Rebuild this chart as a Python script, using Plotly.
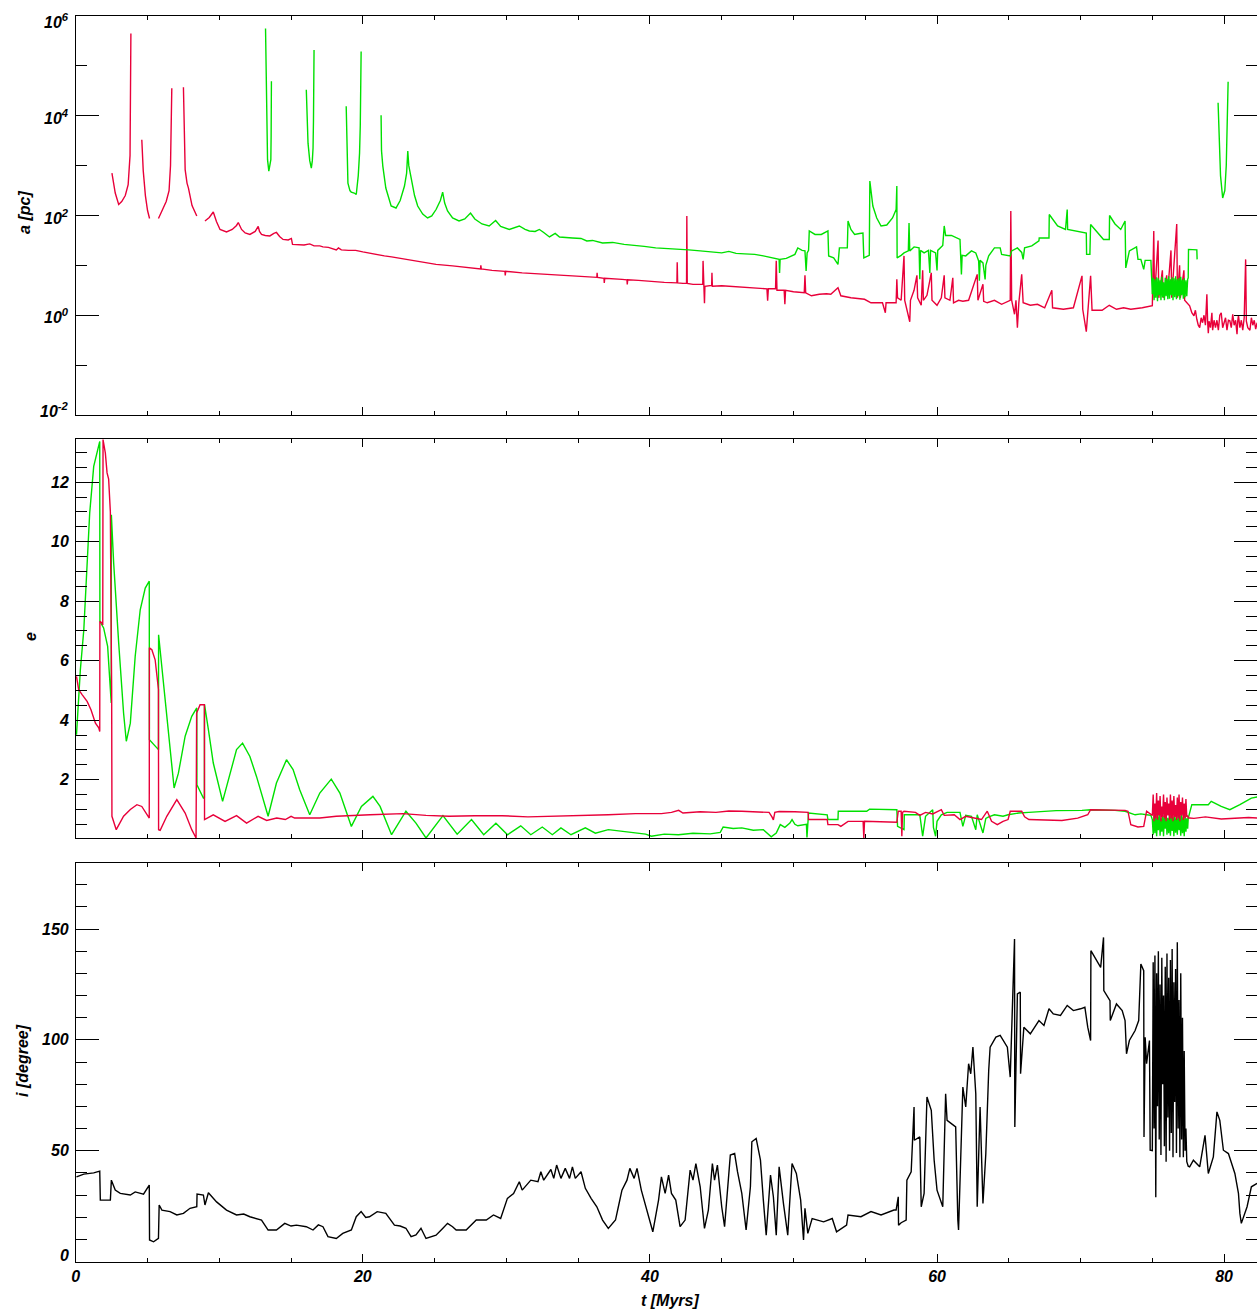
import plotly.graph_objects as go

W, H = 1257, 1312
RED = '#e8003a'
GREEN = '#00e000'
FONT = 'Liberation Sans, Arial, sans-serif'

# ---------------- panel 1 : a [pc] (values stored as log10 a) ----------------
t_a_red = [2.52, 2.75, 2.99, 3.2, 3.45, 3.65, 3.78, 3.84, None,
           4.6, 4.7, 4.85, 5.0, 5.14, None,
           5.76, 6.0, 6.3, 6.5, 6.6, 6.69, None,
           7.5, 7.55, 7.62, 7.75, 7.85, 8.1, 8.43, None,
           9.0, 9.3, 9.58, 9.8, 10.05, 10.5, 10.9, 11.2, 11.32, 11.55, 11.8, 12.13, 12.5, 12.71, 12.8,
           12.94, 13.2, 13.52, 13.8, 13.98, 14.2, 14.44, 14.8, 15.02, 15.1, 15.5, 15.9, 16.3, 16.6, 17.0,
           17.22, 17.6, 18.15, 18.3, 18.5, 19.0, 19.5, 20.0, 20.47, 21.0, 21.5, 22.0, 22.78, 23.5, 24.17,
           25.1, 26.25, 27.0, 27.64, 28.2, 28.22, 28.25, 29.0, 29.9, 29.92, 29.95, 31.1, 32.0, 33.0, 34.0,
           34.6, 35.5, 36.3, 36.32, 36.35, 36.8, 36.82, 36.85, 38.06, 38.4, 38.42, 38.45, 39.2, 40.0, 41.0,
           41.88, 41.9, 41.93, 42.3, 42.55, 42.57, 42.6, 43.0, 43.68, 43.7, 43.78, 43.8, 43.83, 44.3, 44.32,
           44.35, 45.0, 45.6, 46.2, 46.9, 47.5, 48.15, 48.2, 48.25, 48.75, 48.8, 48.85, 49.35, 49.4, 49.45,
           50.0, 50.75, 50.8, 50.85, 51.25, 51.8, 52.3, 52.6, 53.1, 53.3, 54.0, 54.5, 54.95, 55.4, 56.2,
           56.4, 56.45, 57.15, 57.2, 57.25, 57.5, 57.7, 57.75, 58.1, 58.15, 58.4, 58.6, 58.65, 58.9, 59.0,
           59.05, 59.3, 59.6, 59.65, 60.0, 60.3, 60.5, 60.55, 60.9, 61.1, 61.15, 61.5, 61.8, 62.2, 62.8,
           62.85, 63.2, 63.25, 63.5, 64.0, 64.5, 65.1, 65.14, 65.2, 65.4, 65.5, 65.6, 65.7, 65.9, 66.0,
           66.5, 67.0, 67.5, 68.0, 68.05, 68.8, 69.5, 70.1, 70.15, 70.4, 70.5, 70.7, 70.8, 71.5, 72.0,
           72.5, 73.0, 73.5, 74.3, 75.0, 75.1, 75.15, 75.4, 75.45, 75.7, 75.75, 76.0, 76.05, 76.3, 76.35,
           76.7, 76.75, 76.9, 76.95, 77.2, 77.25, 77.6, 77.75, 77.9, 78.0, 78.1, 78.2, 78.3, 78.4, 78.5,
           78.6, 78.7, 78.8, 78.85, 78.9, 78.95, 79.05, 79.15, 79.2, 79.3, 79.4, 79.5, 79.6, 79.7, 79.8,
           79.9, 80.0, 80.1, 80.2, 80.3, 80.4, 80.5, 80.6, 80.7, 80.8, 80.9, 80.95, 81.0, 81.1, 81.2,
           81.3, 81.4, 81.5, 81.55, 81.65, 81.8, 81.9, 82.0, 82.1, 82.2, 82.3]
log_a_red = [2.85, 2.45, 2.22, 2.28, 2.40, 2.62, 3.2, 5.65, None,
             3.52, 2.9, 2.4, 2.1, 1.94, None,
             1.94, 2.08, 2.28, 2.5, 3.0, 4.55, None,
             4.57, 3.5, 2.92, 2.65, 2.55, 2.2, 1.99, None,
             1.89, 1.96, 2.07, 1.88, 1.72, 1.67, 1.72, 1.8, 1.86, 1.72, 1.65, 1.62, 1.68, 1.78, 1.68,
             1.62, 1.60, 1.59, 1.64, 1.66, 1.58, 1.52, 1.51, 1.54, 1.42, 1.41, 1.41, 1.43, 1.39, 1.39,
             1.37, 1.36, 1.31, 1.35, 1.31, 1.30, 1.30, 1.27, 1.24, 1.21, 1.19, 1.17, 1.13, 1.09, 1.06,
             1.02, 0.99, 0.97, 0.95, 0.93, 1.0, 0.93, 0.9, 0.88, 0.8, 0.88, 0.85, 0.83, 0.81, 0.8,
             0.79, 0.77, 0.76, 0.85, 0.76, 0.74, 0.65, 0.74, 0.72, 0.71, 0.62, 0.71, 0.7, 0.68, 0.66,
             0.65, 1.06, 0.65, 0.64, 0.64, 1.99, 0.64, 0.62, 0.62, 1.09, 0.55, 0.24, 0.58, 0.6, 0.85,
             0.58, 0.59, 0.58, 0.56, 0.55, 0.55, 0.53, 0.29, 0.53, 0.53, 1.09, 0.5, 0.5, 0.22, 0.5,
             0.47, 0.45, 0.8, 0.45, 0.39, 0.42, 0.43, 0.42, 0.55, 0.39, 0.35, 0.33, 0.32, 0.25, 0.25,
             0.05, 0.25, 0.25, 0.72, 0.35, 0.3, 1.19, 0.3, -0.13, 0.3, 0.5, 0.8, 0.35, 0.2, 0.9,
             0.3, 0.4, 0.85, 0.3, 0.2, 0.35, 0.8, 0.35, 0.3, 0.75, 0.25, 0.3, 0.28, 0.3, 0.82,
             0.3, 0.62, 0.28, 0.25, 0.3, 0.22, 0.3, 2.09, 0.3, 0.02, 0.3, -0.25, 0.25, 0.82, 0.25,
             0.2, 0.22, 0.15, 0.5, 0.15, 0.12, 0.15, 0.79, 0.12, -0.33, 0.12, 0.79, 0.1, 0.1, 0.2,
             0.12, 0.15, 0.12, 0.15, 0.19, 1.69, 0.35, 1.5, 0.35, 0.9, 0.35, 0.8, 0.4, 1.3, 0.35,
             1.83, 0.35, 1.0, 0.35, 0.9, 0.3, 0.19, 0.05, -0.01, 0.1, -0.08, -0.2, -0.25, -0.05, -0.15,
             0.0, -0.2, 0.42, -0.12, -0.36, -0.12, -0.25, 0.05, -0.3, -0.1, -0.25, -0.1, -0.3, 0.0, 0.05,
             -0.25, -0.15, -0.05, -0.3, -0.1, -0.11, -0.25, 0.02, -0.2, -0.1, -0.38, -0.12, 0.0, -0.25, -0.1,
             -0.3, -0.05, 1.12, -0.12, -0.25, -0.3, -0.05, -0.2, -0.1, -0.28, -0.15]

t_a_green_pre = [13.22, 13.27, 13.3, 13.36, 13.45, 13.52, 13.59, 13.61, 13.63, None,
                 16.06, 16.12, 16.18, 16.3, 16.41, 16.48, 16.53, 16.56, 16.6, None,
                 18.84, 18.9, 18.96, 19.1, 19.19, 19.4, 19.54, 19.68, 19.77, 19.82, 19.88, None,
                 21.27, 21.3, 21.39, 21.6, 21.97, 22.31, 22.6, 22.9, 23.05, 23.13, 23.2, 23.36, 23.6, 23.82,
                 24.17, 24.51, 24.8, 25.1, 25.4, 25.56, 25.7, 25.9, 26.25, 26.7, 27.1, 27.5, 27.8, 28.3,
                 28.8, 29.25, 29.6, 30.2, 30.9, 31.3, 31.6, 32.0, 32.3, 32.6, 33.0, 33.4, 33.7, 34.6,
                 35.2, 35.6, 36.0, 36.7, 37.4, 38.2, 39.0, 39.6, 40.4, 41.2, 42.0, 42.7, 43.5, 44.2,
                 45.0, 45.5, 46.0, 46.6, 47.3, 47.9, 48.5, 49.0, 49.03, 49.07, 49.5, 50.1, 50.3, 50.6,
                 50.8, 50.88, 50.95, 51.05, 51.1, 51.5, 51.94, 52.2, 52.4, 52.45, 52.8, 53.1, 53.2, 53.75,
                 53.8, 54.0, 54.26, 54.6, 54.84, 54.9, 55.28, 55.3, 55.32, 55.53, 55.8, 56.1, 56.5, 56.9,
                 57.15, 57.2, 57.22, 57.5, 57.7, 58.0, 58.05, 58.1, 58.4, 58.75, 58.8, 58.85, 59.1, 59.4,
                 59.5, 59.55, 59.9, 60.0, 60.05, 60.4, 60.5, 60.6, 61.0, 61.6, 61.7, 61.75, 62.0, 62.4,
                 62.7, 62.9, 62.95, 63.0, 63.2, 63.35, 63.4, 63.6, 64.0, 64.4, 64.5, 65.1, 65.2, 65.6,
                 65.9, 66.0, 66.1, 66.6, 67.1, 67.12, 67.8, 67.82, 68.4, 68.95, 69.07, 69.1, 70.2, 70.4,
                 70.42, 70.65, 70.7, 71.6, 72.0, 72.02, 72.4, 72.8, 73.1, 73.15, 73.4, 73.9, 74.0, 74.2,
                 74.4, 74.5, 74.9]
log_a_green_pre = [5.75, 4.6, 3.7, 3.12, 2.89, 2.98, 3.12, 3.6, 4.69, None,
                   4.52, 3.8, 3.45, 3.1, 2.95, 3.1, 3.35, 3.9, 5.32, None,
                   4.19, 3.2, 2.65, 2.5, 2.47, 2.45, 2.42, 2.8, 3.25, 3.8, 5.29, None,
                   4.01, 3.3, 2.99, 2.55, 2.19, 2.15, 2.3, 2.59, 2.85, 3.29, 3.0, 2.75, 2.4, 2.19,
                   2.03, 1.95, 1.99, 2.12, 2.3, 2.47, 2.25, 2.09, 1.95, 1.89, 1.93, 2.05, 1.93, 1.83,
                   1.79, 1.9, 1.78, 1.72, 1.79, 1.72, 1.69, 1.68, 1.72, 1.66, 1.57, 1.64, 1.57, 1.55,
                   1.54, 1.49, 1.5, 1.45, 1.46, 1.42, 1.4, 1.38, 1.35, 1.34, 1.32, 1.31, 1.29, 1.27,
                   1.25, 1.28, 1.24, 1.23, 1.22, 1.19, 1.15, 1.12, 0.85, 1.12, 1.14, 1.22, 1.35, 1.3,
                   1.29, 0.89, 1.25, 1.3, 1.69, 1.62, 1.62, 1.66, 1.69, 1.19, 1.15, 1.02, 1.35, 1.35,
                   1.89, 1.72, 1.62, 1.64, 1.65, 1.15, 1.2, 1.95, 2.69, 2.19, 1.95, 1.79, 1.81, 1.95,
                   2.12, 2.59, 1.15, 1.2, 1.25, 1.29, 1.85, 1.29, 1.37, 1.35, 0.72, 1.3, 1.25, 1.3,
                   0.85, 1.3, 1.25, 0.9, 1.3, 1.4, 1.79, 1.6, 1.6, 1.52, 0.82, 1.2, 1.19, 1.29,
                   1.25, 1.09, 0.69, 1.1, 1.05, 0.72, 1.0, 1.19, 1.35, 1.35, 1.22, 1.19, 1.29, 1.35,
                   1.26, 1.12, 1.35, 1.39, 1.49, 1.55, 1.55, 2.02, 1.79, 1.72, 2.12, 1.72, 1.65, 1.65,
                   1.22, 1.22, 1.82, 1.52, 1.52, 2.0, 1.83, 1.72, 1.89, 0.95, 1.29, 1.37, 1.12, 1.12,
                   0.92, 1.1, 1.1]

# dense oscillation burst (shared time stamps)
t_burst = [75.0, 75.06, 75.12, 75.18, 75.24, 75.3, 75.36, 75.42, 75.48, 75.54, 75.6, 75.66, 75.72,
           75.78, 75.84, 75.9, 75.96, 76.02, 76.08, 76.14, 76.2, 76.26, 76.32, 76.38, 76.44, 76.5,
           76.56, 76.62, 76.68, 76.74, 76.8, 76.86, 76.92, 76.98, 77.04, 77.1, 77.16, 77.22, 77.28,
           77.34, 77.4, 77.46, 77.5]
log_a_green_burst = [0.42, 0.75, 0.3, 0.72, 0.35, 0.76, 0.28, 0.74, 0.4, 0.7, 0.3, 0.77, 0.36, 0.66,
                     0.3, 0.75, 0.38, 0.73, 0.32, 0.78, 0.33, 0.72, 0.4, 0.76, 0.3, 0.74, 0.36, 0.78,
                     0.32, 0.72, 0.38, 0.75, 0.31, 0.77, 0.4, 0.71, 0.33, 0.74, 0.36, 0.7, 0.38, 0.72, 0.75]
t_a_green_post = [77.52, 78.1, 78.12, None, 79.58, 79.65, 79.75, 79.9, 80.05, 80.15, 80.22, 80.28]
log_a_green_post = [1.32, 1.31, 1.12, None, 4.26, 3.5, 2.8, 2.35, 2.5, 3.0, 3.8, 4.68]

# ---------------- panel 2 : e ----------------
t_e_green_pre = [0.05, 0.32, 0.56, 0.79, 0.97, 1.25, 1.6, 1.67, 1.68, 1.94, 2.22, 2.41, 2.47, 2.48,
                 2.64, 2.99, 3.33, 3.52, 3.8, 4.14, 4.49, 4.84, 5.12, 5.13, 5.42, 5.76, 5.77, 6.11,
                 6.46, 6.85, 7.15, 7.62, 8.08, 8.43, 8.44, 8.89, 8.96, 8.97, 9.24, 9.58, 10.23, 10.74,
                 11.2, 11.62, 12.13, 12.59, 13.4, 13.98, 14.68, 15.14, 15.6, 16.3, 17.0, 17.8, 18.4,
                 19.2, 19.9, 20.7, 21.2, 22.0, 23.0, 23.7, 24.4, 25.58, 26.57, 27.57, 28.42, 29.27,
                 30.08, 31.0, 31.7, 32.5, 33.2, 33.8, 34.5, 35.5, 36.2, 37.1, 38.3, 39.7, 40.1, 41.0,
                 41.98, 43.0, 44.2, 44.9, 45.1, 45.8, 46.4, 47.2, 47.9, 48.26, 48.45, 48.8, 49.08, 49.4,
                 49.75, 49.9, 50.1, 50.3, 50.7, 50.9, 50.94, 51.0, 51.05, 52.35, 52.4, 53.1, 53.12,
                 55.1, 55.3, 57.2, 57.25, 57.7, 57.72, 58.8, 59.0, 59.2, 59.7, 59.75, 59.9, 60.0, 60.3,
                 60.7, 61.6, 61.8, 62.0, 62.4, 62.7, 62.8, 63.2, 63.4, 63.6, 64.0, 64.6, 64.95, 65.7,
                 66.4, 67.5, 68.3, 70.1, 70.7, 72.4, 73.1, 73.8, 74.2, 74.6, 74.9]
e_green_pre = [3.51, 5.7, 7.04, 9.06, 10.96, 12.53, 13.3, 13.37, 7.32, 7.1, 6.48, 5.25, 4.58, 10.9,
               9.28, 6.59, 4.24, 3.29, 3.9, 6.15, 7.71, 8.44, 8.67, 3.34, 3.18, 3.01, 6.87, 5.25,
               3.46, 1.72, 2.22, 3.46, 4.13, 4.41, 1.83, 1.38, 1.4, 4.52, 3.68, 2.56, 1.27, 2.22,
               3.01, 3.23, 2.78, 2.11, 0.77, 1.89, 2.67, 2.34, 1.66, 0.82, 1.55, 2.02, 1.55,
               0.43, 1.1, 1.44, 1.1, 0.15, 0.94, 0.54, 0.04, 0.79, 0.17, 0.66, 0.15, 0.54,
               0.15, 0.45, 0.15, 0.41, 0.15, 0.38, 0.15, 0.38, 0.2, 0.32, 0.26, 0.17, 0.1, 0.17,
               0.15, 0.2, 0.18, 0.23, 0.41, 0.36, 0.38, 0.3, 0.32, 0.15, 0.08, 0.21, 0.49, 0.4,
               0.54, 0.66, 0.5, 0.45, 0.5, 0.5, 0.06, 0.5, 0.88, 0.82, 0.66, 0.66, 0.94,
               0.94, 1.01, 0.99, 0.43, 0.32, 0.82, 0.82, 0.1, 0.77, 0.99, 0.4, 0.1, 0.6, 0.82,
               0.9, 0.9, 0.43, 0.8, 0.77, 0.32, 0.82, 0.21, 0.7, 0.75, 0.82, 0.77, 0.82, 0.88,
               0.9, 0.94, 0.96, 0.97, 0.99, 0.97, 0.94, 0.82, 0.85, 0.82, 0.8]
e_green_burst = [0.66, 0.15, 0.8, 0.2, 0.85, 0.1, 0.75, 0.3, 0.88, 0.12, 0.7, 0.25, 0.82, 0.1, 0.78,
                 0.35, 0.86, 0.15, 0.72, 0.2, 0.8, 0.12, 0.85, 0.28, 0.76, 0.1, 0.82, 0.22, 0.7, 0.15,
                 0.88, 0.3, 0.78, 0.12, 0.84, 0.2, 0.74, 0.1, 0.8, 0.25, 0.7, 0.35, 0.7]
t_e_green_post = [77.75, 78.9, 79.1, 79.8, 80.4, 81.1, 81.9, 82.3]
e_green_post = [1.16, 1.16, 1.27, 1.1, 0.99, 1.16, 1.38, 1.42]

t_e_red_pre = [0.05, 0.2, 0.44, 0.79, 1.06, 1.37, 1.6, 1.67, 1.68, 1.83, 1.88, 1.9, 2.06, 2.18, 2.29,
               2.41, 2.45, 2.5, 2.52, 2.82, 3.33, 3.8, 4.26, 4.6, 5.12, 5.13, 5.3, 5.53, 5.76, 5.77,
               5.88, 6.34, 7.04, 7.62, 8.08, 8.38, 8.42, 8.66, 8.96, 8.97, 9.58, 10.4, 11.2, 11.9,
               12.7, 13.3, 14.0, 14.6, 15.0, 15.25, 17.0, 18.15, 20.5, 22.8, 24.4, 26.0, 27.8, 29.7,
               31.5, 33.4, 35.2, 37.1, 39.0, 40.8, 41.5, 42.0, 42.3, 42.7, 43.5, 44.6, 45.5, 46.4,
               47.3, 48.3, 48.5, 48.6, 48.7, 49.0, 50.1, 50.9, 51.02, 51.05, 52.35, 52.4, 53.1, 53.3,
               53.65, 53.8, 54.85, 54.9, 54.95, 57.2, 57.3, 57.5, 57.55, 57.6, 57.7, 58.5, 58.8, 59.2,
               59.7, 60.3, 60.5, 61.2, 61.6, 62.0, 62.5, 63.1, 63.5, 63.8, 64.2, 64.6, 64.95, 65.1,
               65.9, 66.1, 66.4, 68.7, 69.8, 70.5, 70.7, 71.5, 73.1, 73.3, 73.5, 74.0, 74.4, 74.6, 74.9]
e_red_pre = [5.47, 5.03, 4.86, 4.63, 4.35, 3.9, 3.74, 3.62, 7.32, 7.27, 7.2, 13.43, 12.98, 12.31, 12.1,
             11.0, 8.0, 5.03, 0.77, 0.32, 0.77, 1.0, 1.16, 1.1, 0.71, 6.43, 6.37, 6.03, 5.03, 0.32,
             0.3, 0.77, 1.33, 0.88, 0.32, 0.04, 4.24, 4.52, 4.52, 0.66, 0.82, 0.6, 0.79, 0.54,
             0.77, 0.63, 0.71, 0.66, 0.77, 0.71, 0.71, 0.77, 0.82, 0.86, 0.8, 0.77, 0.79, 0.79,
             0.75, 0.77, 0.79, 0.82, 0.86, 0.86, 0.9, 0.97, 0.88, 0.9, 0.92, 0.9, 0.95, 0.94,
             0.92, 0.9, 0.75, 0.65, 0.9, 0.93, 0.92, 0.9, 0.9, 0.66, 0.66, 0.49, 0.49, 0.43,
             0.54, 0.6, 0.6, 0.04, 0.6, 0.57, 0.94, 0.94, 0.1, 0.9, 0.94, 0.9, 0.8, 0.9,
             0.85, 0.99, 0.8, 0.82, 0.66, 0.77, 0.72, 0.66, 0.94, 0.6, 0.49, 0.6, 0.66, 0.94,
             0.94, 0.75, 0.66, 0.63, 0.71, 0.82, 0.99, 0.98, 0.97, 0.94, 0.49, 0.41, 0.43, 0.94, 0.85]
e_red_burst = [0.8, 1.5, 0.6, 1.2, 0.7, 1.55, 0.65, 1.3, 0.8, 1.45, 0.6, 1.1, 0.75, 1.5, 0.7, 1.25,
               0.6, 1.4, 0.8, 1.2, 0.65, 1.5, 0.7, 1.3, 0.6, 1.45, 0.75, 1.15, 0.65, 1.4, 0.7, 1.5,
               0.6, 1.25, 0.8, 1.4, 0.65, 1.2, 0.7, 1.35, 0.75, 0.8, 0.71]
t_e_red_post = [77.6, 77.9, 78.7, 79.8, 81.7, 82.3]
e_red_post = [0.71, 0.7, 0.75, 0.68, 0.73, 0.71]

# ---------------- panel 3 : i [degree] ----------------
t_i_pre = [0.05, 0.56, 1.25, 1.67, 1.71, 2.41, 2.48, 2.75, 3.1, 3.5, 3.8, 4.14, 4.72, 5.12, 5.14, 5.42,
           5.76, 5.81, 6.0, 6.57, 7.04, 7.5, 7.96, 8.43, 8.45, 8.89, 9.0, 9.24, 9.81, 10.5, 11.2, 11.7,
           12.13, 12.94, 13.4, 13.98, 14.56, 15.0, 15.37, 16.06, 16.53, 16.9, 17.22, 17.57, 18.15,
           18.6, 19.2, 19.54, 19.88, 20.2, 20.46, 21.0, 21.6, 22.2, 22.6, 23.0, 23.36, 23.7, 24.05,
           24.4, 25.1, 25.56, 25.9, 26.25, 26.5, 27.2, 27.9, 28.6, 29.1, 29.6, 30.07, 30.5, 30.9,
           31.1, 31.7, 32.2, 32.4, 32.6, 33.1, 33.3, 33.5, 33.8, 34.1, 34.4, 34.6, 34.8, 35.2, 35.5,
           35.9, 36.3, 36.7, 37.1, 37.6, 37.8, 38.05, 38.4, 38.6, 38.9, 39.1, 39.4, 39.8, 40.2, 40.6,
           40.8, 41.06, 41.3, 41.5, 41.8, 42.1, 42.45, 42.8, 43.0, 43.2, 43.5, 43.8, 44.07, 44.35,
           44.5, 44.7, 45.0, 45.2, 45.6, 45.9, 46.1, 46.4, 46.7, 47.0, 47.1, 47.4, 47.7, 47.9, 48.1,
           48.4, 48.6, 48.8, 49.0, 49.3, 49.6, 49.9, 50.2, 50.5, 50.7, 50.8, 51.0, 51.3, 52.1, 52.7,
           53.0, 53.7, 53.8, 54.7, 55.4, 56.1, 57.0, 57.15, 57.3, 57.32, 57.5, 57.85, 57.9, 58.2,
           58.4, 58.42, 58.8, 58.9, 59.1, 59.3, 59.6, 59.8, 60.0, 60.4, 60.6, 60.7, 61.3, 61.45,
           61.5, 61.8, 62.0, 62.2, 62.35, 62.5, 62.7, 62.8, 63.0, 63.2, 63.4, 63.6, 63.7, 64.1, 64.4,
           64.9, 65.1, 65.4, 65.42, 65.6, 65.8, 65.82, 66.05, 66.5, 67.1, 67.45, 67.8, 68.1, 68.6,
           69.07, 69.5, 70.0, 70.3, 70.5, 70.7, 70.72, 71.0, 71.4, 71.6, 71.62, 72.05, 72.07, 72.5,
           72.9, 73.1, 73.2, 73.4, 73.8, 74.05, 74.2, 74.4, 74.42, 74.5, 74.6, 74.8, 74.85]
inc_pre = [38.2, 39.4, 40.0, 40.8, 27.7, 27.7, 36.7, 32.2, 30.7, 30.4, 30.0, 31.4, 30.4, 34.5, 9.7, 8.9,
           10.4, 25.5, 23.2, 22.5, 21.0, 21.7, 24.0, 24.7, 30.4, 30.0, 25.5, 31.0, 26.9, 23.2, 21.0, 21.4,
           20.2, 18.7, 14.2, 14.2, 17.2, 16.0, 16.4, 15.7, 14.2, 16.5, 15.7, 11.2, 10.4,
           12.7, 14.2, 20.2, 22.5, 19.9, 20.2, 22.5, 21.7, 16.4, 16.0, 15.0, 11.2, 12.0, 15.0,
           10.4, 11.9, 14.9, 17.2, 15.7, 14.2, 14.2, 18.7, 18.7, 21.0, 19.4, 28.5, 30.7, 36.0,
           32.2, 36.7, 36.0, 40.5, 36.7, 41.5, 37.5, 43.5, 37.5, 42.0, 37.5, 42.7, 37.5, 40.5, 33.0,
           28.5, 24.7, 18.7, 14.9, 18.7, 24.7, 32.2, 36.7, 42.0, 37.5, 42.0, 32.2, 23.2, 13.4, 27.7,
           38.2, 30.7, 39.0, 30.7, 27.7, 15.7, 18.7, 41.2, 36.7, 44.2, 33.7, 14.9, 23.2, 44.2,
           36.7, 43.5, 24.7, 15.7, 48.0, 48.7, 40.5, 30.7, 14.2, 33.7, 54.0, 55.5, 45.7, 27.7, 11.9,
           39.0, 29.2, 11.9, 42.7, 26.2, 11.9, 44.2, 39.7, 27.7, 9.7, 24.0, 12.7, 19.4, 17.9, 19.4,
           13.4, 16.4, 21.0, 20.2, 22.5, 21.0, 23.2, 23.2, 29.2, 16.4, 17.5, 18.7, 36.7, 40.5,
           69.7, 54.7, 56.2, 24.7, 30.7, 74.2, 68.2, 45.7, 32.2, 24.7, 75.7, 63.7, 60.7, 18.7,
           14.2, 78.7, 69.7, 89.2, 84.7, 96.7, 75.7, 24.7, 69.7, 26.2, 48.7, 86.2, 96.7, 101.2, 102.0,
           96.7, 83.2, 145.5, 60.7, 120.7, 121.5, 84.7, 105.7, 102.7, 108.7, 106.5, 114.0, 111.7, 111.0,
           115.5, 113.2, 114.0, 114.7, 105.7, 99.7, 140.2, 137.2, 132.7, 146.2, 122.2, 117.7, 108.7, 116.2,
           113.2, 108.7, 93.7, 99.7, 104.2, 108.7, 134.2, 131.2, 56.2, 101.2, 89.2, 99.7, 50.2]
inc_burst = [50, 135, 60, 138, 29, 130, 70, 140, 55, 125, 48, 137, 80, 120, 52, 133, 45, 139, 65, 128,
             50, 136, 58, 141, 47, 126, 72, 132, 49, 144, 60, 118, 47, 130, 55, 110, 47, 95, 50, 60,
             45, 44, 43]
t_i_post = [77.6, 77.86, 78.3, 78.67, 78.9, 79.25, 79.5, 79.7, 79.95, 80.3, 80.75, 81.0, 81.1, 81.2,
            81.6, 81.9, 82.3]
inc_post = [42.7, 45.7, 42.7, 56.9, 39.7, 47.2, 67.5, 63.7, 50.2, 48.7, 39.7, 30.7, 21.7, 17.2,
            24.7, 33.7, 35.2]

# tick definitions
x_major = [0, 20, 40, 60, 80]
x_minor = [5, 10, 15, 25, 30, 35, 45, 50, 55, 65, 70, 75, 85]
a_major_exp = [-2, 0, 2, 4, 6]
a_minor_exp = [-1, 1, 3, 5]
e_major = [2, 4, 6, 8, 10, 12]
i_major = [0, 50, 100, 150]


def to_lin(vals):
    return [None if v is None else 10 ** v for v in vals]


fig = go.Figure()
lw = 1.4
fig.add_trace(go.Scatter(x=t_a_red, y=to_lin(log_a_red), mode='lines',
                         line=dict(color=RED, width=lw), xaxis='x', yaxis='y'))
fig.add_trace(go.Scatter(x=t_a_green_pre + t_burst + t_a_green_post,
                         y=to_lin(log_a_green_pre + log_a_green_burst + log_a_green_post),
                         mode='lines', line=dict(color=GREEN, width=lw), xaxis='x', yaxis='y'))
fig.add_trace(go.Scatter(x=t_e_green_pre + t_burst + t_e_green_post,
                         y=e_green_pre + e_green_burst + e_green_post,
                         mode='lines', line=dict(color=GREEN, width=lw), xaxis='x2', yaxis='y2'))
fig.add_trace(go.Scatter(x=t_e_red_pre + t_burst + t_e_red_post,
                         y=e_red_pre + e_red_burst + e_red_post,
                         mode='lines', line=dict(color=RED, width=lw), xaxis='x2', yaxis='y2'))
fig.add_trace(go.Scatter(x=t_i_pre + t_burst + t_i_post, y=inc_pre + inc_burst + inc_post,
                         mode='lines', line=dict(color='black', width=lw), xaxis='x3', yaxis='y3'))
# placeholders so the right-hand tick axes are drawn
for xa, ya in (('x', 'y4'), ('x2', 'y5'), ('x3', 'y6')):
    fig.add_trace(go.Scatter(x=[None], y=[None], mode='lines', xaxis=xa, yaxis=ya,
                             showlegend=False, hoverinfo='skip'))


def yd(top, bottom):
    return [1 - bottom / H, 1 - top / H]


xdom = [72 / W, 1.0]
XR = [0, (W - 72) / 14.4]

common_x = dict(domain=xdom, range=XR, showline=True, linecolor='black', linewidth=1,
                mirror='ticks', ticks='inside', tickvals=x_major, ticklen=8, tickcolor='black',
                minor=dict(tickvals=x_minor, ticklen=4, ticks='inside', tickcolor='black'),
                showgrid=False, zeroline=False)
common_y = dict(linecolor='black', linewidth=1, mirror=False, ticks='inside',
                ticklen=23, tickcolor='black', showgrid=False, zeroline=False, showticklabels=False)

y1 = dict(domain=yd(16, 415), type='log', range=[-2, 6], tickvals=[10 ** v for v in a_major_exp],
          minor=dict(tickvals=[10 ** v for v in a_minor_exp], ticklen=11, ticks='inside',
                     tickcolor='black'))
y2 = dict(domain=yd(439, 838.3), range=[0.03, 13.45], tickvals=e_major,
          minor=dict(dtick=0.5, tick0=0, ticklen=11, ticks='inside', tickcolor='black'))
y3 = dict(domain=yd(862.5, 1261.5), range=[0, 180], tickvals=i_major,
          minor=dict(dtick=10, tick0=0, ticklen=11, ticks='inside', tickcolor='black'))

fig.update_layout(
    width=W, height=H, margin=dict(l=0, r=0, t=0, b=0), showlegend=False,
    plot_bgcolor='white', paper_bgcolor='white',
    font=dict(family=FONT, size=16, color='black'),
    xaxis=dict(common_x, anchor='y', showticklabels=False),
    xaxis2=dict(common_x, anchor='y2', matches='x', showticklabels=False),
    xaxis3=dict(common_x, anchor='y3', matches='x', showticklabels=True,
                ticktext=['<b><i>%d</i></b>' % v for v in x_major],
                tickfont=dict(family=FONT, size=16, color='black')),
    yaxis=dict(common_y, **y1, anchor='x', showline=True),
    yaxis2=dict(common_y, **y2, anchor='x2', showline=True),
    yaxis3=dict(common_y, **y3, anchor='x3', showline=True),
    yaxis4=dict(common_y, **y1, anchor='x', overlaying='y', side='right', showline=False),
    yaxis5=dict(common_y, **y2, anchor='x2', overlaying='y2', side='right', showline=False),
    yaxis6=dict(common_y, **y3, anchor='x3', overlaying='y3', side='right', showline=False),
)

ann = []
lx = 67 / W


def lab(text, yref, y, yshift=0):
    ann.append(dict(text='<b><i>%s</i></b>' % text, xref='paper', x=lx, xanchor='right',
                    yref=yref, y=y, yanchor='middle', yshift=yshift, showarrow=False,
                    font=dict(family=FONT, size=16, color='black')))


for ex in a_major_exp:
    shift = -5 if ex == 6 else (5 if ex == -2 else -1)
    lab('10<sup>%d</sup>' % ex, 'y', ex, shift)
for v in e_major:
    lab('%d' % v, 'y2', v)
for v in i_major:
    lab('%d' % v, 'y3', v, 6 if v == 0 else 0)


def title(text, px, py, angle):
    ann.append(dict(text='<b><i>%s</i></b>' % text, xref='paper', x=px / W, yref='paper',
                    y=1 - py / H, xanchor='center', yanchor='middle', textangle=angle,
                    showarrow=False, font=dict(family=FONT, size=16, color='black')))


title('a [pc]', 20, 212, -90)
title('e', 26, 636, -90)
title('i [degree]', 18, 1060, -90)
title('t [Myrs]', 668, 1300, 0)

fig.update_layout(annotations=ann)
fig.write_html('out.html', config={'displayModeBar': False},
               post_script="document.body.style.margin='0';document.body.style.overflow='hidden';")
